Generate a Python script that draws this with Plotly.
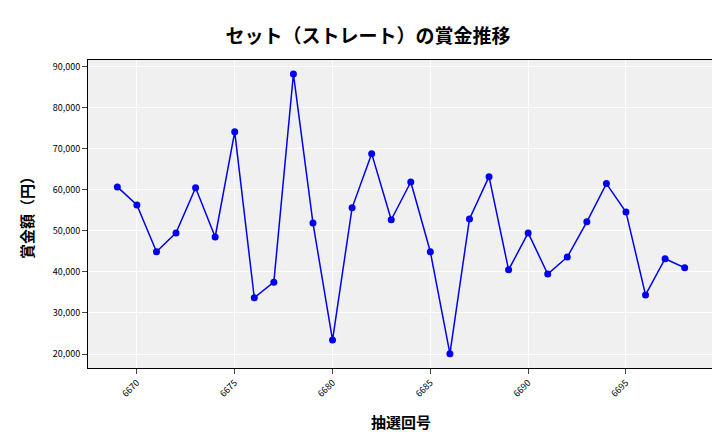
import plotly.graph_objects as go

draws = list(range(6669, 6699))
prizes = [60700, 56300, 44900, 49500, 60500, 48500, 74100, 33700, 37500, 88200,
          51900, 23400, 55600, 68800, 52700, 61900, 44900, 20100, 52900, 63200,
          40500, 49500, 39500, 43600, 52200, 61500, 54600, 34400, 43200, 41000]
xticks = [6670, 6675, 6680, 6685, 6690, 6695]
yticks = list(range(20000, 90001, 10000))

fig = go.Figure(go.Scatter(x=draws, y=prizes, mode="lines+markers",
                           line=dict(color="#0000ee", width=1.5),
                           marker=dict(color="#0000ee", size=7)))
fig.update_layout(
    width=720, height=432, margin=dict(l=80, r=14, t=52, b=72, autoexpand=False),
    paper_bgcolor="white", plot_bgcolor="#f0f0f0",
    font=dict(family="Noto Sans CJK JP", color="black"),
    title=dict(text="<b>セット（ストレート）の賞金推移</b>", x=0.5, y=0.95,
               xanchor="center", font=dict(size=19)),
    showlegend=False,
)
fig.update_xaxes(tickvals=xticks, tickangle=-45, tickfont=dict(size=9),
                 range=[6667.5, 6699.5], showgrid=True, gridcolor="white",
                 showline=True, linecolor="black", mirror=True, ticks="outside",
                 automargin=False,
                 title=dict(text="<b>抽選回号</b>", font=dict(size=15), standoff=18), zeroline=False)
fig.update_yaxes(tickvals=yticks, tickformat=",", tickfont=dict(size=9),
                 range=[16600, 91600], showgrid=True, gridcolor="white",
                 showline=True, linecolor="black", mirror=True, ticks="outside",
                 automargin=False,
                 title=dict(text="<b>賞金額（円）</b>", font=dict(size=15)), zeroline=False)
fig.write_html("out.html")
